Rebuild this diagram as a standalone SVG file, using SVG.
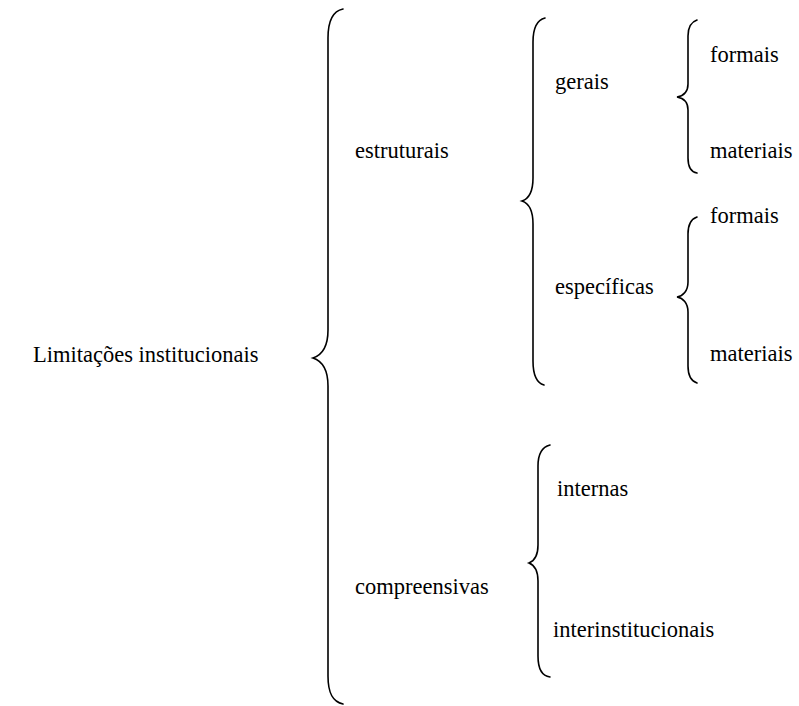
<svg xmlns="http://www.w3.org/2000/svg" width="799" height="706" viewBox="0 0 799 706">
<style>
text{font-family:"Liberation Serif","Times New Roman",serif;font-size:22.5px;fill:#000}
.b{fill:none;stroke:#000;stroke-width:1.6;stroke-linecap:round}
</style>
<rect width="799" height="706" fill="#fff"/>
<g id="connectors">
<path class="b" d="M343,9 C333,11 328,20 328,38 L328,330 C328,346 322,355 313,358 C322,361 328,370 328,386 L328,676 C328,694 333,702 343,704"/>
<path class="b" d="M545,18 C537,20 533,27 533,42 L533,178 C533,192 528,199 522,201 C528,203 533,210 533,224 L533,361 C533,376 537,383 544,385"/>
<path class="b" d="M697,20 C691,22 688,27 688,36 L688,84 C688,92 683,96 677,97 C683,98 688,102 688,110 L688,158 C688,167 691,172 697,173"/>
<path class="b" d="M697,217 C691,219 688,224 688,234 L688,282 C688,291 683,296 677,297 C683,298 688,303 688,312 L688,366 C688,376 691,381 697,383"/>
<path class="b" d="M550,445 C542,447 538,454 538,466 L538,545 C538,556 534,561 529,563 C534,565 538,570 538,581 L538,656 C538,669 542,676 550,677"/>
</g>
<g id="n-root"><text x="33" y="362">Limitações institucionais</text></g>
<g id="n-estruturais"><text x="355" y="158">estruturais</text></g>
<g id="n-compreensivas"><text x="355" y="594">compreensivas</text></g>
<g id="n-gerais"><text x="555" y="89">gerais</text></g>
<g id="n-especificas"><text x="555" y="294">específicas</text></g>
<g id="n-formais1"><text x="710" y="62">formais</text></g>
<g id="n-materiais1"><text x="710" y="158">materiais</text></g>
<g id="n-formais2"><text x="710" y="223">formais</text></g>
<g id="n-materiais2"><text x="710" y="361">materiais</text></g>
<g id="n-internas"><text x="557" y="496">internas</text></g>
<g id="n-interinst"><text x="553" y="637">interinstitucionais</text></g>
</svg>
